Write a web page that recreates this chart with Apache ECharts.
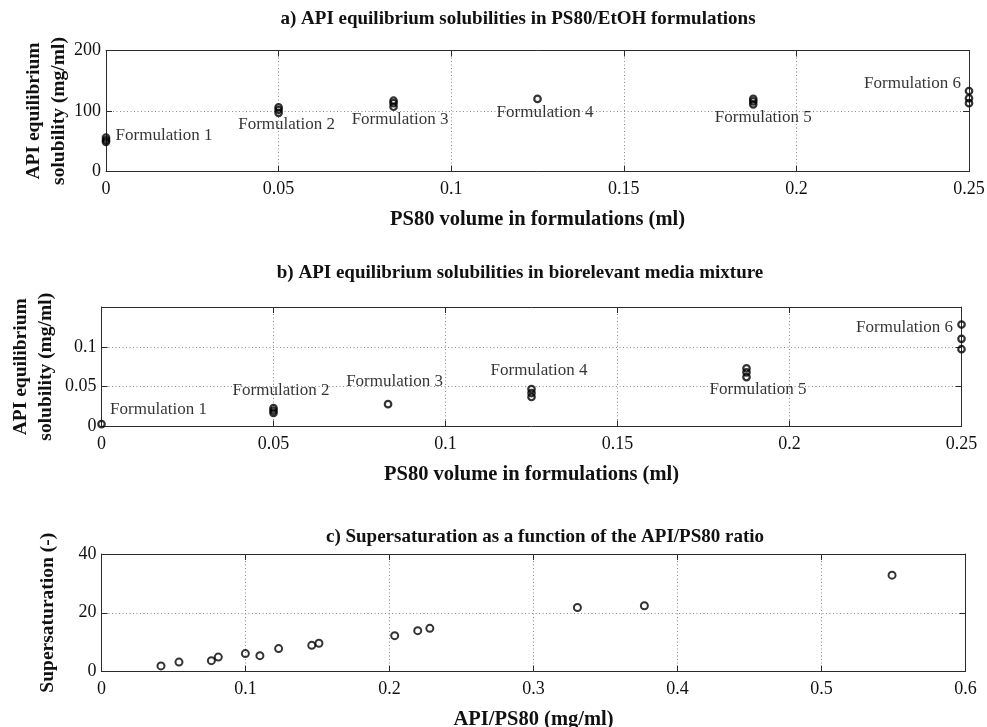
<!DOCTYPE html>
<html>
<head>
<meta charset="utf-8">
<script src="https://cdn.jsdelivr.net/npm/echarts@6/dist/echarts.min.js"></script>
<style>
  html, body { margin: 0; padding: 0; background: #fff; }
  #chart { width: 987px; height: 727px; }
</style>
</head>
<body>
<div id="chart"></div>
<script>
// PS80 volume of each formulation (ml)
const ps80Volume = [0, 0.05, 0.0833, 0.125, 0.1875, 0.25];
const formulationNames = ['Formulation 1', 'Formulation 2', 'Formulation 3',
                          'Formulation 4', 'Formulation 5', 'Formulation 6'];

// a) API equilibrium solubility in PS80/EtOH formulations (mg/ml), replicates per formulation
const solubilityEtOH = [
  [49, 52, 56],
  [97, 102, 106],
  [107, 113, 117],
  [120],
  [111, 116, 120],
  [113, 121, 133]
];

// b) API equilibrium solubility in biorelevant media mixture (mg/ml)
const solubilityBio = [
  [0.003],
  [0.017, 0.020, 0.023],
  [0.028],
  [0.037, 0.042, 0.047],
  [0.062, 0.068, 0.073],
  [0.097, 0.110, 0.128]
];

// c) supersaturation vs API/PS80 ratio
const apiPs80Ratio = [0.0413, 0.0538, 0.0763, 0.0811, 0.0999, 0.110, 0.123, 0.146, 0.151,
                      0.2036, 0.2196, 0.228, 0.3305, 0.377, 0.549];
const supersaturation = [1.9, 3.2, 3.7, 4.9, 6.1, 5.4, 7.8, 8.9, 9.6,
                         12.2, 13.9, 14.7, 21.8, 22.4, 32.8];

// tick settings
const xTicksVolume = { min: 0, max: 0.25, interval: 0.05 };
const yTicksEtOH = { min: 0, max: 200, interval: 100 };
const yTicksBio = { min: 0, max: 0.15, interval: 0.05 };
const xTicksRatio = { min: 0, max: 0.6, interval: 0.1 };
const yTicksSuper = { min: 0, max: 40, interval: 20 };

const FONT = "'Liberation Serif', 'Times New Roman', serif";
const INK = '#111';
const AXIS = '#2b2b2b';

const chart = echarts.init(document.getElementById('chart'));

function mean(arr) { return arr.reduce((s, v) => s + v, 0) / arr.length; }

function flatten(groups) {
  const pts = [];
  groups.forEach((g, i) => g.forEach(v => pts.push([ps80Volume[i], v])));
  return pts;
}

// pixel offsets of each formulation caption from its group centre
const captionOffsetA = [[58, -4], [8, 15], [6.5, 16], [7.5, 14], [10, 16], [-56.5, -13.5]];
const captionOffsetB = [[57, -15], [7.5, -20], [6.5, -23], [7.5, -23], [11.5, 16.5], [-57, -10]];

function captions(groups, offsets) {
  return groups.map((g, i) => ({
    value: [ps80Volume[i], mean(g)],
    label: { offset: offsets[i] }
  }));
}

// fixed plot rectangles; axis names may sit outside them
const grids = [
  { left: 106, top: 50.5, width: 863, height: 121, outerBoundsMode: 'none' },
  { left: 101.5, top: 307, width: 860, height: 119.5, outerBoundsMode: 'none' },
  { left: 101.5, top: 554, width: 864, height: 117.5, outerBoundsMode: 'none' }
];

const gridLine = { show: true, lineStyle: { color: '#8a8a8a', width: 1, type: [1, 2.5] } };
const tickLabel = { color: INK, fontFamily: FONT, fontSize: 18 };
const nameStyle = { color: INK, fontFamily: FONT, fontSize: 19.5, fontWeight: 'bold', lineHeight: 25 };
const xNameStyle = { ...nameStyle, fontSize: 20.5 };

function xPair(gi, ticks, name, gap) {
  return [
    {
      gridIndex: gi, type: 'value', position: 'bottom', ...ticks,
      axisLine: { show: true, onZero: false, lineStyle: { color: AXIS, width: 1 } },
      axisTick: { show: true, inside: true, length: 6, lineStyle: { color: AXIS } },
      axisLabel: { ...tickLabel, margin: 9 },
      splitLine: gridLine,
      name: name, nameLocation: 'middle', nameGap: gap, nameMoveOverlap: false,
      nameTextStyle: xNameStyle
    },
    {
      gridIndex: gi, type: 'value', position: 'top', ...ticks,
      axisLine: { show: true, onZero: false, lineStyle: { color: AXIS, width: 1 } },
      axisTick: { show: true, inside: true, length: 6, lineStyle: { color: AXIS } },
      axisLabel: { show: false }, splitLine: { show: false }
    }
  ];
}

function yPair(gi, ticks, name, gap, hideMax) {
  return [
    {
      gridIndex: gi, type: 'value', position: 'left', ...ticks,
      axisLine: { show: true, onZero: false, lineStyle: { color: AXIS, width: 1 } },
      axisTick: { show: true, inside: true, length: 6, lineStyle: { color: AXIS } },
      axisLabel: { ...tickLabel, margin: 5, showMaxLabel: !hideMax },
      splitLine: gridLine,
      name: name, nameLocation: 'middle', nameGap: gap, nameRotate: 90, nameMoveOverlap: false,
      nameTextStyle: nameStyle
    },
    {
      gridIndex: gi, type: 'value', position: 'right', ...ticks,
      axisLine: { show: true, onZero: false, lineStyle: { color: AXIS, width: 1 } },
      axisTick: { show: true, inside: true, length: 6, lineStyle: { color: AXIS } },
      axisLabel: { show: false }, splitLine: { show: false }
    }
  ];
}

const marker = {
  symbol: 'circle', symbolSize: 6.5,
  itemStyle: { color: 'rgba(255,255,255,0)', borderColor: '#000', borderWidth: 2.2 }
};

const captionLabel = {
  show: true, position: 'inside', align: 'center', verticalAlign: 'middle',
  color: '#000', textBorderWidth: 0, fontFamily: FONT, fontSize: 17,
  formatter: p => formulationNames[p.dataIndex]
};

// invisible anchor points carrying the formulation captions
const captionSeries = (xi, groups, offsets) => ({
  type: 'scatter', xAxisIndex: xi, yAxisIndex: xi, data: captions(groups, offsets),
  symbol: 'circle', symbolSize: 1,
  itemStyle: { color: 'rgba(0,0,0,0)' },
  label: captionLabel, emphasis: { disabled: true }, silent: true, z: 4
});

const titleText = (text, x, y) => ({
  type: 'text', x: x, y: y,
  style: { text: text, fill: INK, font: "bold 19px " + FONT, textAlign: 'center', textVerticalAlign: 'middle' }
});

const option = {
  animation: false,
  backgroundColor: '#fff',
  grid: grids,
  xAxis: [
    ...xPair(0, xTicksVolume, 'PS80 volume in formulations (ml)', 36),
    ...xPair(1, xTicksVolume, 'PS80 volume in formulations (ml)', 36),
    ...xPair(2, xTicksRatio, 'API/PS80 (mg/ml)', 36)
  ],
  yAxis: [
    ...yPair(0, yTicksEtOH, 'API equilibrium\nsolubility (mg/ml)', 35, false),
    ...yPair(1, yTicksBio, 'API equilibrium\nsolubility (mg/ml)', 43, true),
    ...yPair(2, yTicksSuper, 'Supersaturation (-)', 41, false)
  ],
  graphic: [
    titleText('a) API equilibrium solubilities in PS80/EtOH formulations', 518, 19),
    titleText('b) API equilibrium solubilities in biorelevant media mixture', 520, 273),
    titleText('c) Supersaturation as a function of the API/PS80 ratio', 545, 537)
  ],
  series: [
    { type: 'scatter', xAxisIndex: 0, yAxisIndex: 0, data: flatten(solubilityEtOH), ...marker, z: 3 },
    captionSeries(0, solubilityEtOH, captionOffsetA),
    { type: 'scatter', xAxisIndex: 2, yAxisIndex: 2, data: flatten(solubilityBio), ...marker, z: 3 },
    captionSeries(2, solubilityBio, captionOffsetB),
    { type: 'scatter', xAxisIndex: 4, yAxisIndex: 4,
      data: apiPs80Ratio.map((x, i) => [x, supersaturation[i]]),
      symbol: 'circle', symbolSize: 7,
      itemStyle: { color: 'rgba(255,255,255,0)', borderColor: '#000', borderWidth: 2 }, z: 3 }
  ]
};

chart.setOption(option);
</script>
</body>
</html>
